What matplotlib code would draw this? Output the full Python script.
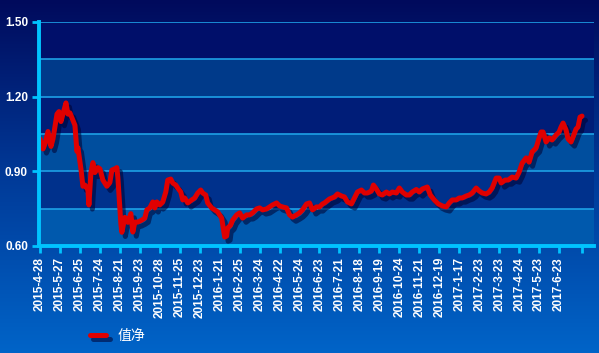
import numpy as np
import matplotlib
matplotlib.use("Agg")
import matplotlib.pyplot as plt
import matplotlib.patheffects as pe
from matplotlib.colors import LinearSegmentedColormap

##### DATA #####
# trading-day index (one tick every 20 days) and net value
day_idx = [0, 3, 5, 8, 11, 13, 17, 19, 21, 23, 26, 28, 30, 32, 35, 37, 38, 41, 43, 45,
           48, 49, 51, 53, 55, 58, 60, 63, 67, 70, 72, 75, 77, 78, 81, 82, 85, 88, 91, 93,
           95, 98, 102, 105, 107, 110, 113, 115, 117, 120, 123, 126, 128, 131, 133, 136, 138, 141, 143, 145,
           148, 152, 155, 158, 161, 163, 166, 168, 172, 175, 178, 182, 185, 187, 188, 191, 193, 197, 200, 203,
           207, 210, 213, 217, 220, 223, 227, 230, 233, 237, 240, 243, 247, 250, 253, 257, 260, 263, 267, 270,
           273, 277, 280, 283, 285, 290, 295, 298, 302, 305, 308, 312, 315, 318, 322, 325, 328, 332, 334, 337,
           340, 343, 347, 350, 353, 357, 360, 363, 367, 370, 373, 377, 380, 383, 388, 391, 395, 399, 403, 407,
           410, 413, 417, 420, 423, 427, 430, 433, 437, 440, 443, 447, 450, 453, 457, 460, 462, 466, 469, 473,
           477, 480, 483, 487, 490, 493, 497, 500, 502, 504, 507, 510, 513, 517, 520, 522, 524, 527, 529, 532,
           534, 537, 539, 541, 543]
net_value = [1.03, 0.99, 1.01, 1.06, 1.00, 1.03, 1.13, 1.14, 1.10, 1.13, 1.175, 1.13, 1.135, 1.115, 1.085, 0.98, 0.995, 0.91, 0.84, 0.845,
             0.825, 0.765, 0.895, 0.935, 0.895, 0.915, 0.91, 0.865, 0.84, 0.855, 0.905, 0.91, 0.915, 0.875, 0.69, 0.655, 0.715, 0.695, 0.73, 0.656,
             0.696, 0.696, 0.704, 0.712, 0.745, 0.753, 0.777, 0.753, 0.777, 0.765, 0.777, 0.817, 0.865, 0.869, 0.853, 0.845, 0.833, 0.817, 0.785, 0.793,
             0.773, 0.785, 0.793, 0.813, 0.825, 0.813, 0.805, 0.773, 0.753, 0.745, 0.737, 0.712, 0.636, 0.64, 0.672, 0.684, 0.704, 0.725, 0.733, 0.712,
             0.725, 0.725, 0.733, 0.749, 0.753, 0.745, 0.749, 0.757, 0.765, 0.773, 0.761, 0.757, 0.753, 0.725, 0.716, 0.725, 0.733, 0.745, 0.769, 0.773,
             0.745, 0.757, 0.757, 0.769, 0.773, 0.789, 0.797, 0.809, 0.801, 0.797, 0.777, 0.769, 0.793, 0.817, 0.825, 0.813, 0.813, 0.821, 0.845, 0.829,
             0.809, 0.805, 0.817, 0.809, 0.817, 0.813, 0.833, 0.817, 0.805, 0.805, 0.817, 0.827, 0.817, 0.829, 0.837, 0.805, 0.785, 0.769, 0.761, 0.757,
             0.773, 0.785, 0.785, 0.793, 0.793, 0.801, 0.805, 0.813, 0.833, 0.821, 0.813, 0.809, 0.817, 0.833, 0.873, 0.873, 0.853, 0.865, 0.865, 0.877,
             0.873, 0.897, 0.933, 0.954, 0.937, 0.978, 0.994, 1.034, 1.058, 1.058, 1.018, 1.034, 1.026, 1.046, 1.058, 1.078, 1.094, 1.066, 1.030, 1.018,
             1.038, 1.070, 1.078, 1.118, 1.122]

tick_dates = ["2015-4-28", "2015-5-27", "2015-6-25", "2015-7-24", "2015-8-21", "2015-9-23",
              "2015-10-28", "2015-11-25", "2015-12-23", "2016-1-21", "2016-2-25", "2016-3-24",
              "2016-4-22", "2016-5-24", "2016-6-23", "2016-7-21", "2016-8-18", "2016-9-19",
              "2016-10-24", "2016-11-21", "2016-12-19", "2017-1-17", "2017-2-23", "2017-3-23",
              "2017-4-24", "2017-5-23", "2017-6-23", ""]
tick_pos = [20 * i for i in range(27)] + [543]

y_ticks = [0.60, 0.90, 1.20, 1.50]
band_edges = [0.60, 0.75, 0.90, 1.05, 1.20, 1.35, 1.50]
band_colors = ["#0059ad", "#00318c", "#004e9e", "#001d78", "#003a8a", "#000f6a"]

##### STYLE #####
W, H = 599, 353
AX_L, AX_R, AX_T, AX_B = 39, 594, 22, 246
CYAN = "#00c4ff"
GRID = "#1ea0e6"

fig = plt.figure(figsize=(W / 100, H / 100), dpi=100)

# gradient background
bg = fig.add_axes([0, 0, 1, 1], zorder=-5)
cmap = LinearSegmentedColormap.from_list("bg", ["#000a5c", "#003a98", "#0064c8"])
grad = np.linspace(0, 1, 256).reshape(-1, 1)
bg.imshow(grad, aspect="auto", cmap=cmap, extent=[0, 1, 0, 1], origin="upper")
bg.axis("off")

ax = fig.add_axes([AX_L / W, 1 - AX_B / H, (AX_R - AX_L) / W, (AX_B - AX_T) / H])
ax.set_facecolor("none")

for i, c in enumerate(band_colors):
    ax.axhspan(band_edges[i], band_edges[i + 1], color=c, lw=0, zorder=0)
for y in band_edges[1:]:
    ax.axhline(y, color=GRID, lw=1.2, zorder=1)

line, = ax.plot(day_idx, net_value, color="#e00000", lw=3.6, solid_joinstyle="round",
                solid_capstyle="round", zorder=3, label="值净")
line.set_path_effects([pe.SimpleLineShadow(offset=(2.5, -3), shadow_color="#000030", alpha=0.55),
                       pe.Normal()])

ax.set_xlim(-1, 555)
ax.set_ylim(0.60, 1.50)

for s in ["top", "right"]:
    ax.spines[s].set_visible(False)
for s in ["left", "bottom"]:
    ax.spines[s].set_color(CYAN)
    ax.spines[s].set_linewidth(2.8)
    ax.spines[s].set_zorder(4)

ax.set_yticks(y_ticks)
ax.set_yticklabels([f"{v:.2f}" for v in y_ticks], color="white", fontsize=8.5,
                   fontweight="bold", family="Liberation Sans")
ax.set_xticks(tick_pos)
ax.set_xticklabels(tick_dates, rotation=90, color="white", fontsize=8.5,
                   fontweight="bold", family="Liberation Sans")
ax.tick_params(axis="both", colors=CYAN, width=2, length=5, pad=3)
ax.tick_params(axis="x", labelcolor="white")
ax.tick_params(axis="y", labelcolor="white")

leg = fig.legend(handles=[line], loc="center left", bbox_to_anchor=(77 / W, 1 - 336 / H),
                 frameon=False, handlelength=1.2, handletextpad=0.8,
                 prop={"family": ["Noto Sans CJK SC", "DejaVu Sans"], "size": 10})
for t in leg.get_texts():
    t.set_color("white")

fig.savefig("out.png", dpi=100)
